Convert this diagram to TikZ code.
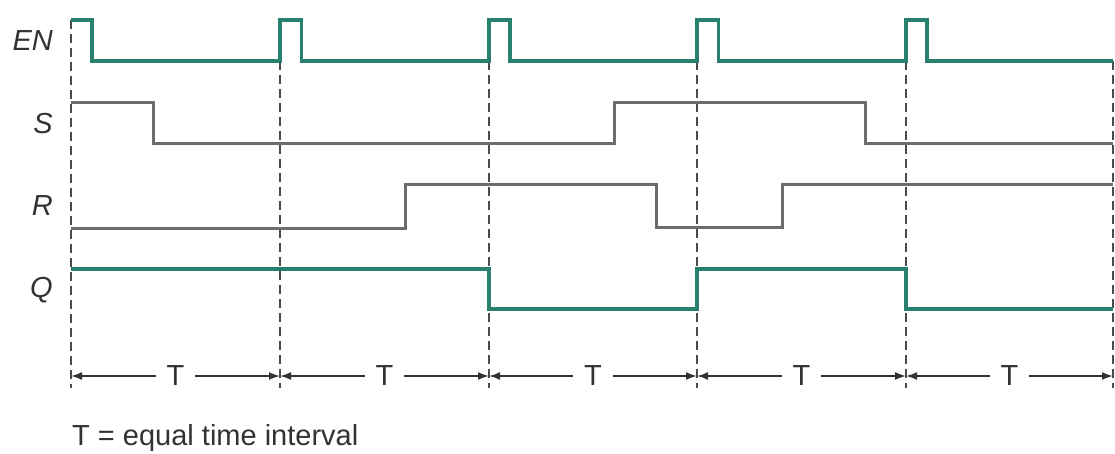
\documentclass[tikz,border=0pt]{standalone}
\usepackage{fontspec}
\setmainfont{Liberation Sans}
\usetikzlibrary{arrows.meta}
\definecolor{wavegreen}{RGB}{42,128,110}
\definecolor{wavegray}{RGB}{108,108,108}
\definecolor{gridgray}{RGB}{75,75,75}
\definecolor{dimgray}{RGB}{50,50,50}
\begin{document}
\begin{tikzpicture}[x=1pt,y=-1pt,
  sig/.style={line width=3.2pt, line join=miter, line cap=butt},
  ensig/.style={sig, draw=wavegreen},
  insig/.style={sig, line width=3pt, draw=wavegray},
  grid/.style={draw=gridgray, line width=1.7pt, dash pattern=on 9pt off 5pt},
  siglabel/.style={anchor=east, inner sep=0pt, text=dimgray,
    font=\fontsize{29}{34}\selectfont\itshape},
  tlabel/.style={inner sep=0pt, outer sep=11pt, text=dimgray,
    font=\fontsize{29}{34}\selectfont},
  dim/.style={draw=dimgray, line width=1.8pt,
    -{Latex[length=11pt,width=8pt]}},
  note/.style={anchor=base west, inner sep=0pt, text=dimgray,
    font=\fontsize{29}{34}\selectfont}
]
\useasboundingbox (0,0) rectangle (1115,454);

% clock edges
\foreach \n/\x in {0/71,1/280,2/489,3/697,4/906,5/1113}{
  \coordinate (top\n) at (\x,61);
  \coordinate (bot\n) at (\x,388);
  \coordinate (tick\n) at (\x,376);
}
\coordinate (top0) at (71,20);

% dashed timing grid
\foreach \n in {0,...,5}{
  \draw[grid] (top\n) -- (bot\n);
}

% signal names
\node[siglabel] (lEN) at (53,41) {EN};
\node[siglabel] (lS) at (53,124) {S};
\node[siglabel] (lR) at (53,206) {R};
\node[siglabel] (lQ) at (53,290) {Q};

% enable pulses
\draw[ensig] (71,20) -- (92,20) -- (92,61) -- (280,61) -- (280,20)
  -- (301.5,20) -- (301.5,61) -- (489,61) -- (489,20) -- (510,20)
  -- (510,61) -- (697,61) -- (697,20) -- (718.5,20) -- (718.5,61)
  -- (906,61) -- (906,20) -- (927,20) -- (927,61) -- (1113,61);

% set input
\draw[insig] (71,103) -- (153,103) -- (153,144) -- (614,144) -- (614,103)
  -- (865,103) -- (865,144) -- (1113,144);

% reset input
\draw[insig] (71,229) -- (405,229) -- (405,185) -- (656,185) -- (656,228)
  -- (782,228) -- (782,185) -- (1113,185);

% output
\draw[ensig] (71,269) -- (489,269) -- (489,309) -- (697,309) -- (697,269)
  -- (906,269) -- (906,309) -- (1113,309);

% equal time intervals
\foreach \a/\b in {0/1,1/2,2/3,3/4,4/5}{
  \path (tick\a) -- (tick\b) node[midway, tlabel] (T\a) {T};
  \draw[dim] (T\a) -- (tick\a);
  \draw[dim] (T\a) -- (tick\b);
}

\node[note] (legend) at (72,445) {T = equal time interval};
\end{tikzpicture}
\end{document}
